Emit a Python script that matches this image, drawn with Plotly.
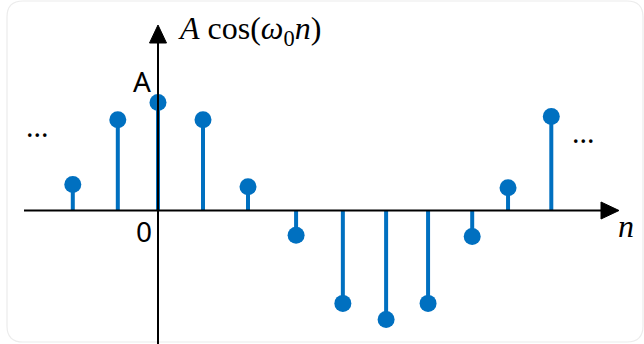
import plotly.graph_objects as go

# Sample positions (in units of n, as drawn) and normalised amplitudes A*cos(w0 n)
n_pos = [-1.95, -0.92, 0.0, 1.03, 2.06, 3.16, 4.23, 5.22, 6.18, 7.19, 8.01, 9.0]
values = [0.24, 0.84, 1.0, 0.84, 0.22, -0.23, -0.86, -1.01, -0.86, -0.24, 0.21, 0.87]

W, H = 644, 344
BLUE = "#0070C0"

def px(x):
    return x / W

def py(y):
    return 1 - y / H

stem_x, stem_y = [], []
for xv, v in zip(n_pos, values):
    stem_x += [xv, xv, None]
    stem_y += [0, v, None]

fig = go.Figure()
fig.add_trace(go.Scatter(x=stem_x, y=stem_y, mode="lines",
                         line=dict(color=BLUE, width=4), hoverinfo="skip"))
fig.add_trace(go.Scatter(x=n_pos, y=values, mode="markers",
                         marker=dict(color=BLUE, size=17, line=dict(width=0))))

shapes = []
# rounded frame
l, t, r, b, rad = 7, 1, 643, 342, 16
path = (f"M {px(l+rad)},{py(t)} L {px(r-rad)},{py(t)} "
        f"Q {px(r)},{py(t)} {px(r)},{py(t+rad)} L {px(r)},{py(b-rad)} "
        f"Q {px(r)},{py(b)} {px(r-rad)},{py(b)} L {px(l+rad)},{py(b)} "
        f"Q {px(l)},{py(b)} {px(l)},{py(b-rad)} L {px(l)},{py(t+rad)} "
        f"Q {px(l)},{py(t)} {px(l+rad)},{py(t)} Z")
shapes.append(dict(type="path", xref="paper", yref="paper", path=path,
                   line=dict(color="#ececec", width=1.2), layer="below"))
# horizontal axis
shapes.append(dict(type="line", xref="paper", yref="paper",
                   x0=px(24), x1=px(606), y0=py(210.5), y1=py(210.5),
                   line=dict(color="black", width=2)))
shapes.append(dict(type="path", xref="paper", yref="paper",
                   path=f"M {px(619)},{py(210.5)} L {px(601)},{py(202)} L {px(601)},{py(219)} Z",
                   fillcolor="black", line=dict(color="black", width=1)))
# vertical axis
shapes.append(dict(type="line", xref="paper", yref="paper",
                   x0=px(158), x1=px(158), y0=py(344), y1=py(40),
                   line=dict(color="black", width=2)))
shapes.append(dict(type="path", xref="paper", yref="paper",
                   path=f"M {px(158)},{py(25)} L {px(149.5)},{py(43)} L {px(166.5)},{py(43)} Z",
                   fillcolor="black", line=dict(color="black", width=1)))

SERIF = "Liberation Serif, DejaVu Serif, serif"
SANS = "Noto Sans, Open Sans, sans-serif"
ann = [
    dict(text="<i>A</i> cos(<i>ω</i><sub>0</sub><i>n</i>)", x=px(176), y=py(30),
         xanchor="left", yanchor="middle", font=dict(family=SERIF, size=32, color="black")),
    dict(text="A", x=px(142), y=py(81), xanchor="center", yanchor="middle",
         font=dict(family=SANS, size=28, color="black")),
    dict(text="0", x=px(143.5), y=py(231), xanchor="center", yanchor="middle",
         font=dict(family=SANS, size=28, color="black")),
    dict(text="<i>n</i>", x=px(625.5), y=py(226), xanchor="center", yanchor="middle",
         font=dict(family=SERIF, size=32, color="black")),
    dict(text="...", x=px(37), y=py(126), xanchor="center", yanchor="middle",
         font=dict(family=SANS, size=28, color="black")),
    dict(text="...", x=px(583), y=py(132), xanchor="center", yanchor="middle",
         font=dict(family=SANS, size=28, color="black")),
]
for a in ann:
    a.update(xref="paper", yref="paper", showarrow=False)

x0 = (0 - 158) / 43.7
x1 = (W - 158) / 43.7
y1 = 210.5 / 108
y0 = -(H - 210.5) / 108

fig.update_layout(
    width=W, height=H, margin=dict(l=0, r=0, t=0, b=0),
    paper_bgcolor="white", plot_bgcolor="white", showlegend=False,
    xaxis=dict(range=[x0, x1], visible=False, fixedrange=True),
    yaxis=dict(range=[y0, y1], visible=False, fixedrange=True),
    shapes=shapes, annotations=ann,
)

fig.write_html("out.html", config=dict(displayModeBar=False),
               post_script="document.body.style.margin='0';document.body.style.overflow='hidden';")
